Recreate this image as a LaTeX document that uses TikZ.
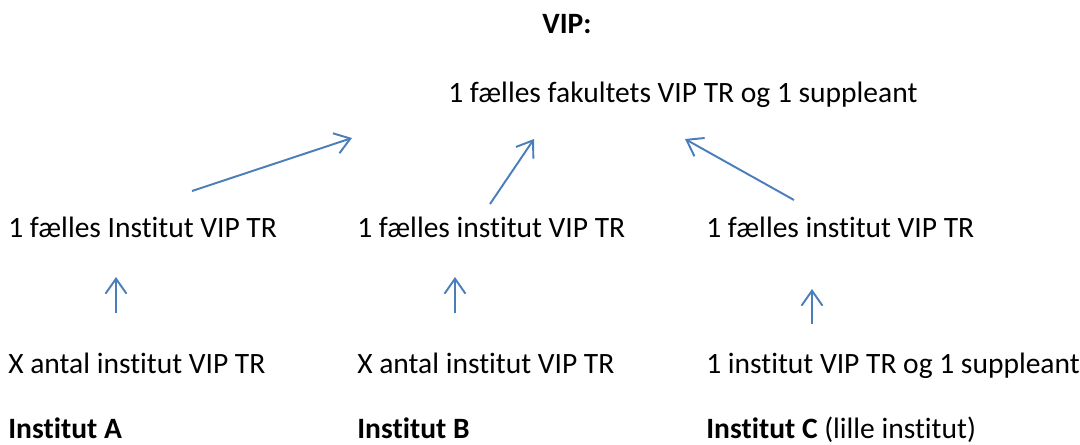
\documentclass[tikz,border=0pt]{standalone}
\usepackage{fontspec}
\setmainfont[Ligatures = NoCommon]{Carlito}
\usetikzlibrary{arrows.meta}

\definecolor{arrowblue}{HTML}{4A7EBB}

\tikzstyle{txt} = [anchor = base west, inner sep = 0pt, font = \fontsize{16.8}{20}\selectfont]
\tikzstyle{head} = [anchor = base, inner sep = 0pt, font = \fontsize{16.8}{20}\selectfont\bfseries]
\tikzstyle{arrow} = [line width = 1.1pt, -{Straight Barb[length = 3mm, width = 4.2mm, line width = 1.1pt]}, draw = arrowblue]

\begin{document}
\begin{tikzpicture}[x = 0.02cm, y = -0.02cm]
    \useasboundingbox (0, 0) rectangle (1080, 444);
        \node(vip)[head] at (567, 33) {VIP:};
        \node(fakultet)[txt] at (448, 102) {1 fælles fakultets VIP TR og 1 suppleant};
        \node(faelles_a)[txt] at (8, 237) {1 fælles Institut VIP TR};
        \node(faelles_b)[txt] at (357, 237) {1 fælles institut VIP TR};
        \node(faelles_c)[txt] at (706, 237) {1 fælles institut VIP TR};
        \node(antal_a)[txt] at (8, 373) {X antal institut VIP TR};
        \node(antal_b)[txt] at (357, 373) {X antal institut VIP TR};
        \node(supp_c)[txt] at (706, 373) {1 institut VIP TR og 1 suppleant};
        \node(inst_a)[txt] at (8, 438) {\bfseries Institut A};
        \node(inst_b)[txt] at (357, 438) {\bfseries Institut B};
        \node(inst_c)[txt] at (706, 438) {\textbf{Institut C} (lille institut)};
        % arrow ends
        \coordinate (a_from) at (192, 191);
        \coordinate (a_to) at (352, 138);
        \coordinate (b_from) at (490, 204);
        \coordinate (b_to) at (534, 139);
        \coordinate (c_from) at (794, 200);
        \coordinate (c_to) at (685, 139);
        \coordinate (la_from) at (116, 313);
        \coordinate (la_to) at (116, 277);
        \coordinate (lb_from) at (455, 313);
        \coordinate (lb_to) at (455, 277);
        \coordinate (lc_from) at (812, 324);
        \coordinate (lc_to) at (812, 289);
        \draw[arrow] (a_from) -- (a_to);
        \draw[arrow] (b_from) -- (b_to);
        \draw[arrow] (c_from) -- (c_to);
        \draw[arrow] (la_from) -- (la_to);
        \draw[arrow] (lb_from) -- (lb_to);
        \draw[arrow] (lc_from) -- (lc_to);
    \end{tikzpicture}
\end{document}
